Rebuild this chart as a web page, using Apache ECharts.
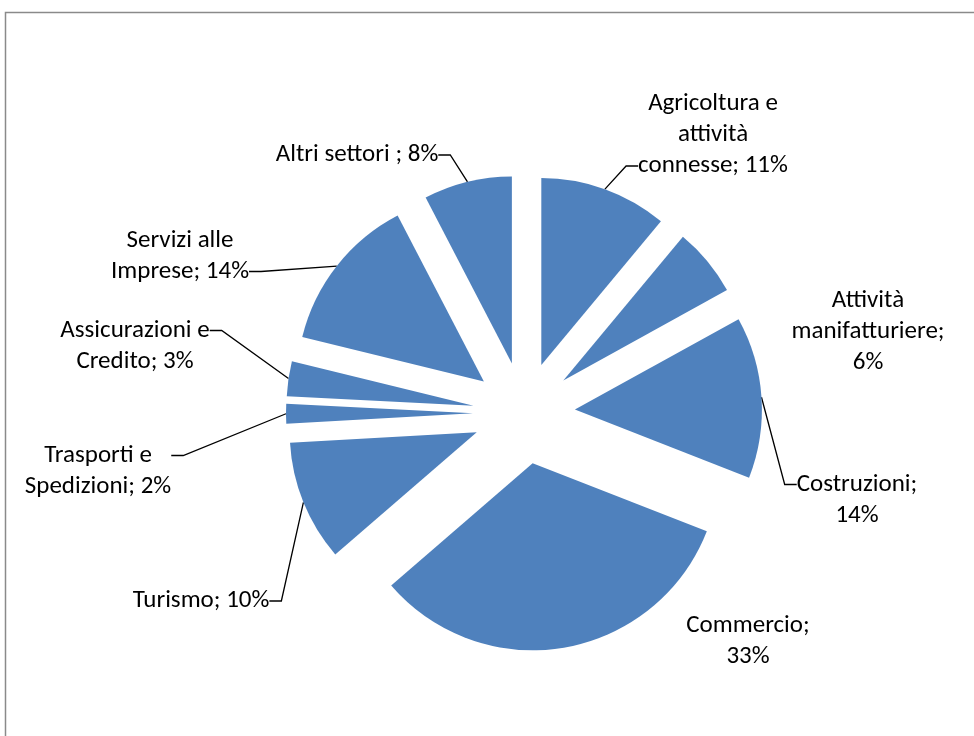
<!DOCTYPE html>
<html>
<head>
<meta charset="utf-8">
<script src="https://cdn.jsdelivr.net/npm/echarts@6/dist/echarts.min.js"></script>
<style>
html,body{margin:0;padding:0;background:#fff;}
#chart{width:974px;height:736px;}
</style>
</head>
<body>
<div id="chart"></div>
<script>
// Sectors, clockwise from 12 o'clock
const categories = [
  'Agricoltura e attività connesse',
  'Attività manifatturiere',
  'Costruzioni',
  'Commercio',
  'Turismo',
  'Trasporti e Spedizioni',
  'Assicurazioni e Credito',
  'Servizi alle Imprese',
  'Altri settori'
];
// Share (%)
const shares = [11.0, 5.9, 13.9, 32.6, 10.4, 1.7, 3.0, 13.5, 7.6];
// Label text templates ({p} = rounded percentage)
const labelTemplates = [
  'Agricoltura e\nattività\nconnesse; {p}%',
  'Attività\nmanifatturiere;\n{p}%',
  'Costruzioni;\n{p}%',
  'Commercio;\n{p}%',
  'Turismo; {p}%',
  'Trasporti e\nSpedizioni; {p}%',
  'Assicurazioni e\nCredito; {p}%',
  'Servizi alle\nImprese; {p}%',
  'Altri settori ; {p}%'
];
// Which text line the leader line meets (0 = no leader line)
const leaderLine = [3, 0, 1, 0, 1, 1, 1, 2, 1];

// Layout
const PIE_CENTER = [524, 413];
const PIE_RADIUS = 187;
const EXPLODE = 51;
const LINE_H = 31;
const FONT_SIZE = 25;
// centres of the label text blocks
const labelCenters = [
  [713, 135], [868, 332], [857, 500], [748, 641], [201, 601],
  [98, 471], [135, 346], [180, 256], [357, 155]
];

const total = shares.reduce((a, b) => a + b, 0);
const blue = '#4F81BD';
const fontFam = "Carlito, Calibri, Lato, 'Liberation Sans', sans-serif";

const measureCtx = document.createElement('canvas').getContext('2d');
measureCtx.font = FONT_SIZE + 'px ' + fontFam;
const textW = s => measureCtx.measureText(s).width;

let cum = 0;
const series = categories.map((name, i) => {
  const startFrac = cum / total;
  const midFrac = (cum + shares[i] / 2) / total;
  cum += shares[i];
  const mid = midFrac * 2 * Math.PI; // clockwise from 12 o'clock
  const center = [
    PIE_CENTER[0] + EXPLODE * Math.sin(mid),
    PIE_CENTER[1] - EXPLODE * Math.cos(mid)
  ];
  const pct = Math.round(shares[i] / total * 100);
  let lines = labelTemplates[i].replace('{p}', pct).split('\n');
  const n = lines.length;
  const k = leaderLine[i] || Math.ceil(n / 2);
  const rich = {};
  if (leaderLine[i] > 0) {
    // keep the box as wide as the line the leader meets
    const wk = textW(lines[k - 1]);
    lines = lines.map((l, j) => {
      if (j !== k - 1 && textW(l) > wk) {
        const key = 'w' + j;
        rich[key] = { width: wk, align: 'center', fontSize: FONT_SIZE, lineHeight: LINE_H,
                      fontFamily: fontFam, color: '#000' };
        return '{' + key + '|' + l + '}';
      }
      return l;
    });
  }
  // add blank lines so that the box middle sits on the leader's text line
  let text = lines.join('\n');
  const extra = 2 * k - 1 - n;
  if (extra > 0) text = text + '\n'.repeat(extra);
  if (extra < 0) text = '\n'.repeat(-extra) + text;
  const anchorY = labelCenters[i][1] + (k - 0.5) * LINE_H - n * LINE_H / 2;
  return {
    type: 'pie',
    name: name,
    center: center,
    radius: [0, PIE_RADIUS],
    startAngle: 90 - startFrac * 360,
    clockwise: true,
    avoidLabelOverlap: false,
    selectedMode: false,
    emphasis: { disabled: true },
    data: [
      {
        name: name,
        value: shares[i],
        itemStyle: { color: blue, borderWidth: 0 },
        label: {
          show: true,
          position: 'outside',
          color: '#000',
          fontFamily: fontFam,
          fontSize: FONT_SIZE,
          lineHeight: LINE_H,
          align: 'center',
          formatter: text,
          rich: rich
        },
        labelLine: {
          show: leaderLine[i] > 0,
          length: 10,
          length2: 12,
          minTurnAngle: 90,
          lineStyle: { color: '#000', width: 1.3 }
        }
      },
      {
        name: '',
        value: total - shares[i],
        itemStyle: { color: 'rgba(0,0,0,0)', borderWidth: 0 },
        label: { show: false },
        labelLine: { show: false }
      }
    ],
    labelLayout: function (params) {
      if (params.dataIndex !== 0) return {};
      return { x: labelCenters[i][0], y: anchorY, align: 'center', verticalAlign: 'middle' };
    }
  };
});

const chart = echarts.init(document.getElementById('chart'), null, { renderer: 'canvas' });
chart.setOption({
  animation: false,
  backgroundColor: '#ffffff',
  graphic: [{
    type: 'rect',
    shape: { x: 5.5, y: 12.5, width: 1000, height: 800 },
    style: { fill: null, stroke: '#8a8a8a', lineWidth: 1.5 },
    silent: true
  }],
  series: series
});
</script>
</body>
</html>
